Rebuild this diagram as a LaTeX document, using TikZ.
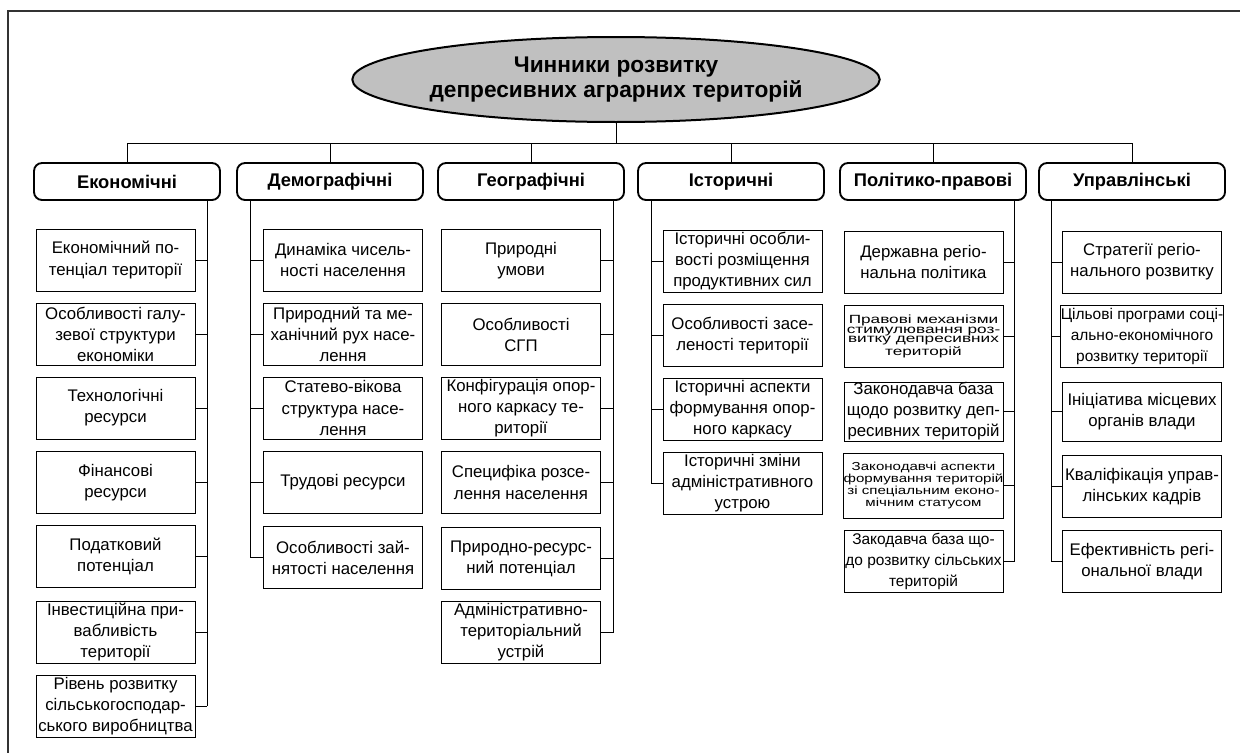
\documentclass[tikz,border=0pt]{standalone}
\usepackage{fontspec}
\setmainfont{Liberation Sans}
\newfontfamily\widefont[FakeStretch=1.3]{Liberation Sans}
\newfontfamily\widerfont[FakeStretch=1.45]{Liberation Sans}
\usetikzlibrary{shapes.geometric}
\definecolor{ellgray}{RGB}{192,192,192}
\begin{document}
\begin{tikzpicture}[x=0.75pt,y=-0.75pt,
  sub/.style={draw, line width=0.75pt, minimum width=119.25pt, minimum height=46.5pt,
    inner sep=0pt, align=center, font=\fontsize{12.6}{15.8}\selectfont},
  small/.style={font=\widefont\fontsize{8.7}{7}\selectfont},
  smallw/.style={font=\widerfont\fontsize{8.9}{7.1}\selectfont},
  mid/.style={font=\fontsize{11.6}{15.6}\selectfont},
  head/.style={draw, line width=1.4pt, rounded corners=6pt, minimum width=139.5pt,
    minimum height=27.75pt, inner sep=0pt, font=\bfseries\fontsize{13.75}{16}\selectfont},
  conn/.style={line width=0.75pt},
  frame/.style={line width=1pt, draw=black!80}]
\useasboundingbox (0,0) rectangle (1240,753);
% page frame
\draw[frame] (1240,11) -- (8,11) -- (8,753);
% root
\node[ellipse, draw, line width=1.5pt, fill=ellgray, minimum width=381pt, minimum height=63.75pt,
  inner sep=0pt, align=center, font=\bfseries\fontsize{17}{18.75}\selectfont]
  (root) at (616,79.5) {Чинники розвитку\\депресивних аграрних територій};
% heads
\node[head] (h1) at (127,181.5) {Економічні};
\node[head] (h2) at (330,181.5) {Демографічні};
\node[head] (h3) at (531,181.5) {Географічні};
\node[head] (h4) at (731,181.5) {Історичні};
\node[head] (h5) at (933,181.5) {Політико-правові};
\node[head] (h6) at (1132,181.5) {Управлінські};
% bus
\coordinate (bus) at (616,143);
\draw[conn] (root.south) -- (bus);
\draw[conn] (h1.north |- bus) -- (h6.north |- bus);
\foreach \h in {h1,h2,h3,h4,h5,h6} \draw[conn] (\h.north |- bus) -- (\h.north);
% Economic
\node[sub] (e1) at (115.5,260) {Економічний по-\\тенціал території};
\node[sub] (e2) at (115.5,334) {Особливості галу-\\зевої структури\\економіки};
\node[sub] (e3) at (115.5,408) {Технологічні\\ресурси};
\node[sub] (e4) at (115.5,482.5) {Фінансові\\ресурси};
\node[sub] (e5) at (115.5,556.5) {Податковий\\потенціал};
\node[sub] (e6) at (115.5,632) {Інвестиційна при-\\вабливість\\території};
\node[sub] (e7) at (115.5,706) {Рівень розвитку\\сільськогосподар-\\ського виробництва};
% Demographic
\node[sub] (d1) at (343,260) {Динаміка чисель-\\ності населення};
\node[sub] (d2) at (343,334) {Природний та ме-\\ханічний рух насе-\\лення};
\node[sub] (d3) at (343,408) {Статево-вікова\\структура насе-\\лення};
\node[sub] (d4) at (343,482.5) {Трудові ресурси};
\node[sub] (d5) at (343,557.5) {Особливості зай-\\нятості населення};
% Geographic
\node[sub] (g1) at (521,260.5) {Природні\\умови};
\node[sub] (g2) at (521,334.5) {Особливості\\СГП};
\node[sub] (g3) at (521,408) {Конфігурація опор-\\ного каркасу те-\\риторії};
\node[sub] (g4) at (521,482.5) {Специфіка розсе-\\лення населення};
\node[sub] (g5) at (521,558.5) {Природно-ресурс-\\ний потенціал};
\node[sub] (g6) at (521,632.5) {Адміністративно-\\територіальний\\устрій};
% Historical
\node[sub] (i1) at (742.5,261.5) {Історичні особли-\\вості розміщення\\продуктивних сил};
\node[sub] (i2) at (742.5,335.5) {Особливості засе-\\леності території};
\node[sub] (i3) at (742.5,409.5) {Історичні аспекти\\формування опор-\\ного каркасу};
\node[sub] (i4) at (742.5,483) {Історичні зміни\\адміністративного\\устрою};
% Political-legal
\node[sub] (p1) at (923.5,262) {Державна регіо-\\нальна політика};
\node[sub,smallw] (p2) at (923.5,336.5) {Правові механізми\\стимулювання роз-\\витку депресивних\\територій};
\node[sub,minimum height=44.25pt] (p3) at (923.5,411.5) {Законодавча база\\щодо розвитку деп-\\ресивних територій};
\node[sub,small,minimum height=48.75pt] (p4) at (923.5,485.5) {Законодавчі аспекти\\формування територій\\зі спеціальним еконо-\\мічним статусом};
\node[sub,mid] (p5) at (923.5,561.5) {Закодавча база що-\\до розвитку сільських\\територій};
% Managerial
\node[sub] (u1) at (1142,262) {Стратегії регіо-\\нального розвитку};
\node[sub,mid] (u2) at (1142,336.5) {Цільові програми соці-\\ально-економічного\\розвитку території};
\node[sub,minimum height=44.25pt] (u3) at (1142,411.5) {Ініціатива місцевих\\органів влади};
\node[sub] (u4) at (1142,486.5) {Кваліфікація управ-\\лінських кадрів};
\node[sub] (u5) at (1142,561.5) {Ефективність регі-\\ональної влади};
% spines
\coordinate (s1) at (207,0);
\coordinate (s2) at (250,0);
\coordinate (s3) at (613,0);
\coordinate (s4) at (651,0);
\coordinate (s5) at (1014,0);
\coordinate (s6) at (1051,0);
\draw[conn] (s1 |- h1.south) -- (s1 |- e7.east);
\foreach \n in {e1,e2,e3,e4,e5,e6,e7} \draw[conn] (\n.east) -- (s1 |- \n.east);
\draw[conn] (s2 |- h2.south) -- (s2 |- d5.west);
\foreach \n in {d1,d2,d3,d4,d5} \draw[conn] (\n.west) -- (s2 |- \n.west);
\draw[conn] (s3 |- h3.south) -- (s3 |- g6.east);
\foreach \n in {g1,g2,g3,g4,g5,g6} \draw[conn] (\n.east) -- (s3 |- \n.east);
\draw[conn] (s4 |- h4.south) -- (s4 |- i4.west);
\foreach \n in {i1,i2,i3,i4} \draw[conn] (\n.west) -- (s4 |- \n.west);
\draw[conn] (s5 |- h5.south) -- (s5 |- p5.east);
\foreach \n in {p1,p2,p3,p4,p5} \draw[conn] (\n.east) -- (s5 |- \n.east);
\draw[conn] (s6 |- h6.south) -- (s6 |- u5.west);
\foreach \n in {u1,u2,u3,u4,u5} \draw[conn] (\n.west) -- (s6 |- \n.west);
\end{tikzpicture}
\end{document}
